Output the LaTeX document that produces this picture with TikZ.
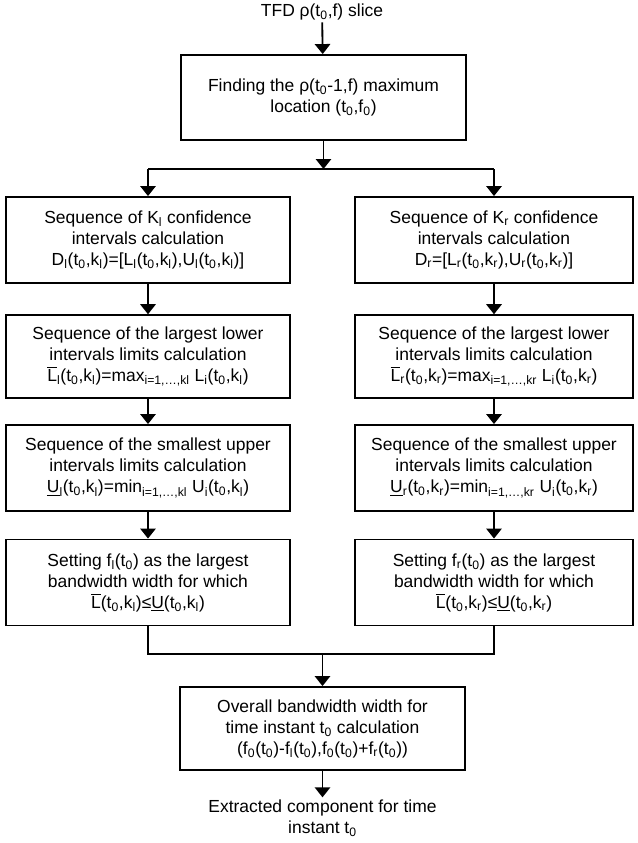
\documentclass[tikz,border=0pt]{standalone}
\usepackage{fontspec}
\setmainfont{Liberation Sans}
\usetikzlibrary{arrows.meta}
\newcommand{\ovL}{$\overline{\hbox{L}}$}
\newcommand{\sbs}[1]{\textsubscript{#1}}
\begin{document}
\begin{tikzpicture}[x=0.75pt,y=-0.75pt,
  font=\fontsize{13.1}{15.75}\selectfont,
  line width=1.4pt,
  arr/.style={-{Triangle[width=11.5pt,length=7.5pt]}},
  box/.style={draw,align=center,inner sep=2pt},
  lbox/.style={box,minimum width=213pt,minimum height=64.5pt},
  rbox/.style={box,minimum width=208.5pt,minimum height=64.5pt},
  plain/.style={align=center,inner sep=1pt}]
\useasboundingbox (0,0) rectangle (637,843);
\node[plain] (title) at (322,12) {TFD ρ(t\sbs{0},f) slice};
\node[box,minimum width=213.75pt,minimum height=63.75pt] (box1) at (323.5,97.5)
  {Finding the ρ(t\sbs{0}-1,f) maximum\\location (t\sbs{0},f\sbs{0})};
\coordinate (s) at (323.5,169);
\coordinate (sl) at (148,169);
\coordinate (sr) at (494,169);
% left column
\node[lbox] (A1) at (148,240)
  {Sequence of K\sbs{l} confidence\\intervals calculation\\D\sbs{l}(t\sbs{0},k\sbs{l})=[L\sbs{l}(t\sbs{0},k\sbs{l}),U\sbs{l}(t\sbs{0},k\sbs{l})]};
\node[lbox,minimum height=62pt] (B1) at (148,356.5)
  {Sequence of the largest lower\\intervals limits calculation\\\ovL\sbs{l}(t\sbs{0},k\sbs{l})=max\sbs{i=1,…,kl} L\sbs{i}(t\sbs{0},k\sbs{l})};
\node[lbox] (C1) at (148,468)
  {Sequence of the smallest upper\\intervals limits calculation\\\underline{U}\sbs{l}(t\sbs{0},k\sbs{l})=min\sbs{i=1,…,kl} U\sbs{i}(t\sbs{0},k\sbs{l})};
\node[lbox] (D1) at (148,582.5)
  {Setting f\sbs{l}(t\sbs{0}) as the largest\\bandwidth width for which\\\ovL(t\sbs{0},k\sbs{l})≤\underline{U}(t\sbs{0},k\sbs{l})};
% right column
\node[rbox] (A2) at (494,240)
  {Sequence of K\sbs{r} confidence\\intervals calculation\\D\sbs{r}=[L\sbs{r}(t\sbs{0},k\sbs{r}),U\sbs{r}(t\sbs{0},k\sbs{r})]};
\node[rbox,minimum height=62pt] (B2) at (494,356.5)
  {Sequence of the largest lower\\intervals limits calculation\\\ovL\sbs{r}(t\sbs{0},k\sbs{r})=max\sbs{i=1,…,kr} L\sbs{i}(t\sbs{0},k\sbs{r})};
\node[rbox] (C2) at (494,468)
  {Sequence of the smallest upper\\intervals limits calculation\\\underline{U}\sbs{r}(t\sbs{0},k\sbs{r})=min\sbs{i=1,…,kr} U\sbs{i}(t\sbs{0},k\sbs{r})};
\node[rbox] (D2) at (494,582.5)
  {Setting f\sbs{r}(t\sbs{0}) as the largest\\bandwidth width for which\\\ovL(t\sbs{0},k\sbs{r})≤\underline{U}(t\sbs{0},k\sbs{r})};
\coordinate (ml) at (148,654);
\coordinate (mr) at (494,654);
\coordinate (m) at (322.5,654);
\node[box,minimum width=213.75pt,minimum height=62.25pt] (bot) at (322.5,728.5)
  {Overall bandwidth width for\\time instant t\sbs{0} calculation\\(f\sbs{0}(t\sbs{0})-f\sbs{l}(t\sbs{0}),f\sbs{0}(t\sbs{0})+f\sbs{r}(t\sbs{0}))};
\node[plain] (final) at (322.5,818)
  {Extracted component for time\\instant t\sbs{0}};
% connectors
\draw[arr] (title) -- (box1);
\draw[arr] (box1) -- (s);
\draw (sl) -- (sr);
\draw[arr] (sl) -- (A1);
\draw[arr] (sr) -- (A2);
\draw[arr] (A1) -- (B1);
\draw[arr] (B1) -- (C1);
\draw[arr] (C1) -- (D1);
\draw[arr] (A2) -- (B2);
\draw[arr] (B2) -- (C2);
\draw[arr] (C2) -- (D2);
\draw (D1.south) -- (ml) -- (mr) -- (D2.south);
\draw[arr] (m) -- (bot);
\draw[arr] (bot) -- (final);
\end{tikzpicture}
\end{document}
